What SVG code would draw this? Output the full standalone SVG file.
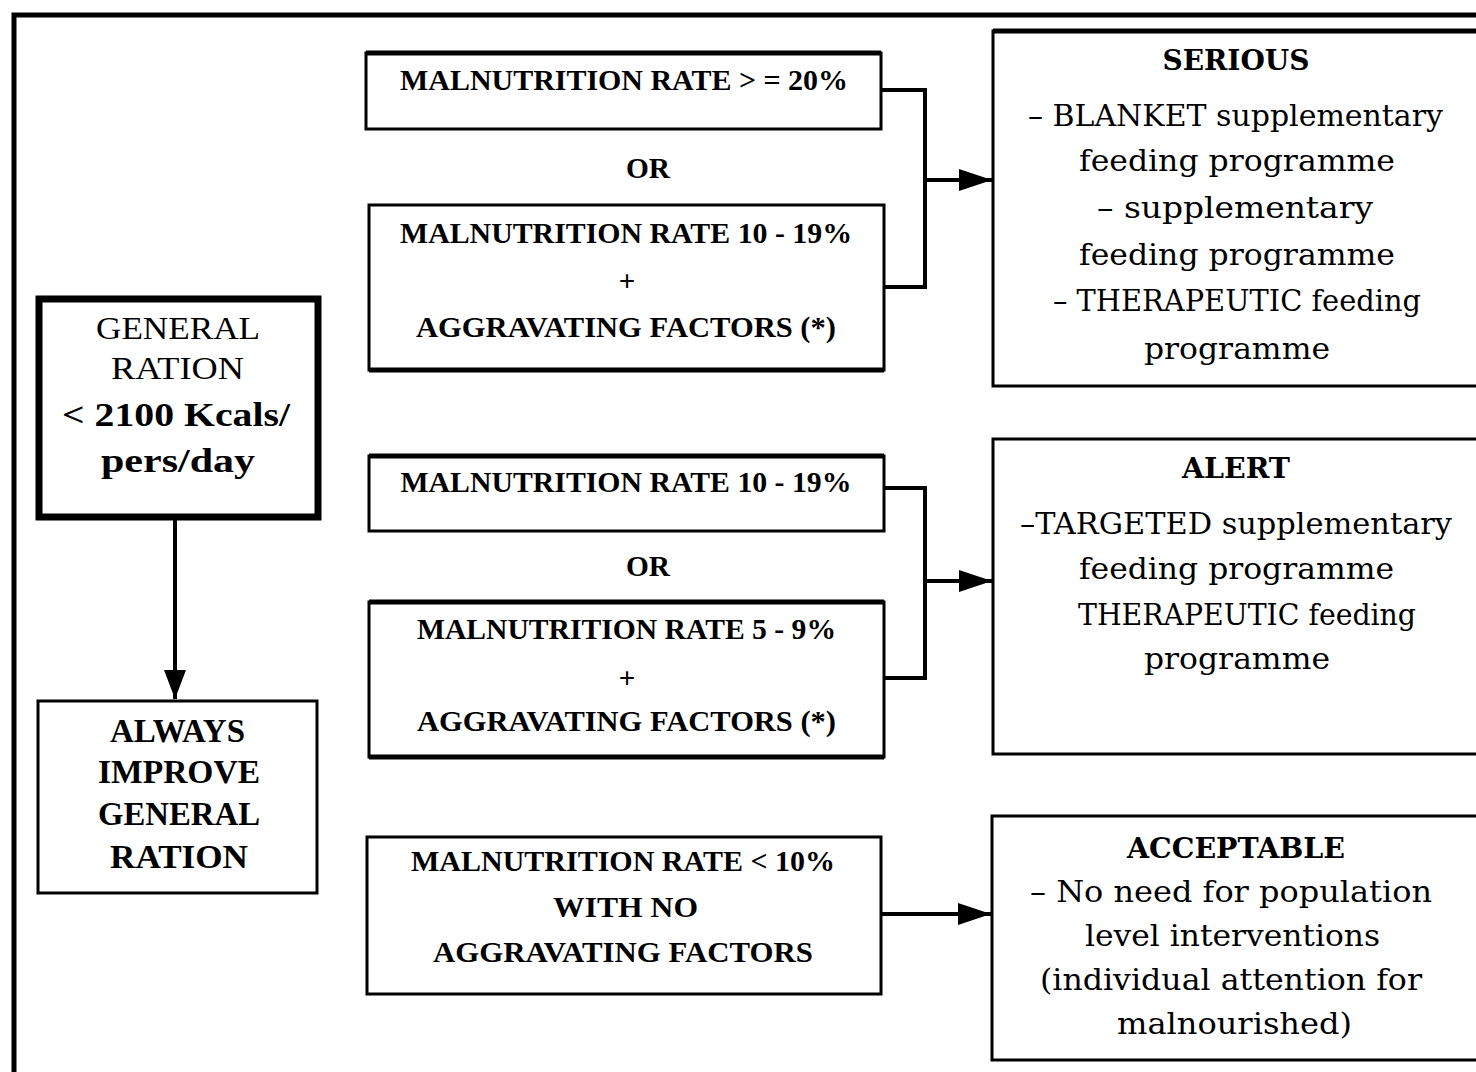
<svg xmlns="http://www.w3.org/2000/svg" width="1476" height="1072" viewBox="0 0 1476 1072">
<defs>
<marker id="ah" markerUnits="userSpaceOnUse" markerWidth="34" markerHeight="22" refX="33" refY="11" orient="auto">
<path d="M0,0 L33,11 L0,22 Z" fill="#000"/>
</marker>
<marker id="ahv" markerUnits="userSpaceOnUse" markerWidth="30" markerHeight="22" refX="29" refY="11" orient="auto">
<path d="M0,0 L29,11 L0,22 Z" fill="#000"/>
</marker>
<style>
.box{fill:#fff;stroke:#000;stroke-width:3}
.thick{fill:#fff;stroke:#000;stroke-width:7}
.edge{stroke:#000;stroke-width:5;fill:none}
.conn{stroke:#000;stroke-width:4;fill:none}
.t{font-family:"Liberation Serif","Times New Roman",serif;font-weight:bold;font-size:29px;text-anchor:middle;fill:#000}
.l{font-family:"Liberation Serif","Times New Roman",serif;font-size:32px;text-anchor:middle;fill:#000}
.lb{font-family:"Liberation Serif","Times New Roman",serif;font-weight:bold;font-size:33px;text-anchor:middle;fill:#000}
.r{font-family:"DejaVu Serif",serif;font-size:30px;text-anchor:middle;fill:#000}
.rh{font-family:"DejaVu Serif",serif;font-weight:bold;font-size:28px;text-anchor:middle;fill:#000}
</style>
</defs>
<rect width="1476" height="1072" fill="#fff"/>
<path d="M14,1072 V15 H1476" class="edge" stroke-width="4"/>

<g id="connectors">
<path class="conn" d="M881,90 H925 V287 H884"/>
<path class="conn" d="M925,180 H992" marker-end="url(#ah)"/>
<path class="conn" d="M884,488 H925 V678 H884"/>
<path class="conn" d="M925,581 H992" marker-end="url(#ah)"/>
<path class="conn" d="M881,914 H991" stroke-width="5" marker-end="url(#ah)"/>
<path class="conn" d="M175,520 V699" stroke-width="3" marker-end="url(#ahv)"/>
</g>

<g id="general-ration">
<rect class="thick" x="39" y="299" width="279" height="218"/>
<text class="l" x="178" y="339" textLength="164" lengthAdjust="spacingAndGlyphs">GENERAL</text>
<text class="l" x="177.5" y="379" textLength="133" lengthAdjust="spacingAndGlyphs">RATION</text>
<text class="lb" x="176" y="426" font-size="37" textLength="228" lengthAdjust="spacingAndGlyphs">&lt; 2100 Kcals/</text>
<text class="lb" x="178" y="472" font-size="37" textLength="154" lengthAdjust="spacingAndGlyphs">pers/day</text>
</g>

<g id="always-improve">
<rect class="box" x="38" y="701" width="279" height="192" stroke-width="4"/>
<text class="lb" x="177.5" y="742" textLength="135" lengthAdjust="spacingAndGlyphs">ALWAYS</text>
<text class="lb" x="179" y="783" textLength="162" lengthAdjust="spacingAndGlyphs">IMPROVE</text>
<text class="lb" x="179" y="825" textLength="162" lengthAdjust="spacingAndGlyphs">GENERAL</text>
<text class="lb" x="179" y="868" textLength="138" lengthAdjust="spacingAndGlyphs">RATION</text>
</g>

<g id="rate-20">
<rect class="box" x="366" y="53" width="515" height="76"/>
<line class="edge" x1="366" y1="53" x2="881" y2="53" stroke-width="5"/>
<text class="t" x="624" y="90" textLength="448" lengthAdjust="spacingAndGlyphs">MALNUTRITION RATE &gt; = 20%</text>
</g>

<g id="or-1">
<text class="t" x="648" y="178" textLength="44" lengthAdjust="spacingAndGlyphs">OR</text>
</g>

<g id="rate-10-19-aggr">
<rect class="box" x="369" y="205" width="515" height="165"/>
<line class="edge" x1="369" y1="370" x2="884" y2="370" stroke-width="4"/>
<text class="t" x="626" y="243" textLength="452" lengthAdjust="spacingAndGlyphs">MALNUTRITION RATE 10 - 19%</text>
<text class="t" x="627" y="291">+</text>
<text class="t" x="626" y="337" textLength="420" lengthAdjust="spacingAndGlyphs">AGGRAVATING FACTORS (*)</text>
</g>

<g id="serious">
<rect class="box" x="993" y="31" width="500" height="355"/>
<line class="edge" x1="993" y1="31" x2="1476" y2="31" stroke-width="5"/>
<text class="rh" x="1236" y="70" textLength="147" lengthAdjust="spacingAndGlyphs">SERIOUS</text>
<text class="r" x="1235.5" y="126" textLength="415" lengthAdjust="spacingAndGlyphs">– BLANKET supplementary</text>
<text class="r" x="1237" y="171" textLength="316" lengthAdjust="spacingAndGlyphs">feeding programme</text>
<text class="r" x="1235" y="218" textLength="276" lengthAdjust="spacingAndGlyphs">–  supplementary</text>
<text class="r" x="1237" y="265" textLength="316" lengthAdjust="spacingAndGlyphs">feeding programme</text>
<text class="r" x="1237" y="311" textLength="368" lengthAdjust="spacingAndGlyphs">– THERAPEUTIC feeding</text>
<text class="r" x="1237" y="359" textLength="186" lengthAdjust="spacingAndGlyphs">programme</text>
</g>

<g id="rate-10-19">
<rect class="box" x="369" y="456" width="515" height="75"/>
<line class="edge" x1="369" y1="456" x2="884" y2="456" stroke-width="4"/>
<text class="t" x="626" y="492" textLength="451" lengthAdjust="spacingAndGlyphs">MALNUTRITION RATE 10 - 19%</text>
</g>

<g id="or-2">
<text class="t" x="648" y="576" textLength="44" lengthAdjust="spacingAndGlyphs">OR</text>
</g>

<g id="rate-5-9-aggr">
<rect class="box" x="369" y="602" width="515" height="155"/>
<line class="edge" x1="369" y1="602" x2="884" y2="602" stroke-width="4"/>
<line class="edge" x1="369" y1="757" x2="884" y2="757" stroke-width="4"/>
<text class="t" x="626.5" y="639" textLength="419" lengthAdjust="spacingAndGlyphs">MALNUTRITION RATE 5 - 9%</text>
<text class="t" x="627" y="688">+</text>
<text class="t" x="626.5" y="731" textLength="419" lengthAdjust="spacingAndGlyphs">AGGRAVATING FACTORS (*)</text>
</g>

<g id="alert">
<rect class="box" x="993" y="439" width="500" height="315"/>
<text class="rh" x="1236" y="478" textLength="108" lengthAdjust="spacingAndGlyphs">ALERT</text>
<text class="r" x="1236" y="534" textLength="432" lengthAdjust="spacingAndGlyphs">–TARGETED supplementary</text>
<text class="r" x="1236.5" y="579" textLength="315" lengthAdjust="spacingAndGlyphs">feeding programme</text>
<text class="r" x="1247" y="625" textLength="338" lengthAdjust="spacingAndGlyphs">THERAPEUTIC feeding</text>
<text class="r" x="1237" y="669" textLength="186" lengthAdjust="spacingAndGlyphs">programme</text>
</g>

<g id="rate-under-10">
<rect class="box" x="367" y="837" width="514" height="157" stroke-width="4"/>
<text class="t" x="623" y="871" textLength="424" lengthAdjust="spacingAndGlyphs">MALNUTRITION RATE &lt; 10%</text>
<text class="t" x="625.5" y="917" textLength="145" lengthAdjust="spacingAndGlyphs">WITH NO</text>
<text class="t" x="623" y="962" textLength="380" lengthAdjust="spacingAndGlyphs">AGGRAVATING FACTORS</text>
</g>

<g id="acceptable">
<rect class="box" x="992" y="816" width="500" height="244" stroke-width="4"/>
<text class="rh" x="1236" y="858" textLength="218" lengthAdjust="spacingAndGlyphs">ACCEPTABLE</text>
<text class="r" x="1231" y="902" textLength="402" lengthAdjust="spacingAndGlyphs">– No need for population</text>
<text class="r" x="1232.5" y="946" textLength="295" lengthAdjust="spacingAndGlyphs">level interventions</text>
<text class="r" x="1231" y="990" textLength="382" lengthAdjust="spacingAndGlyphs">(individual attention for</text>
<text class="r" x="1234.5" y="1034" textLength="235" lengthAdjust="spacingAndGlyphs">malnourished)</text>
</g>
</svg>
